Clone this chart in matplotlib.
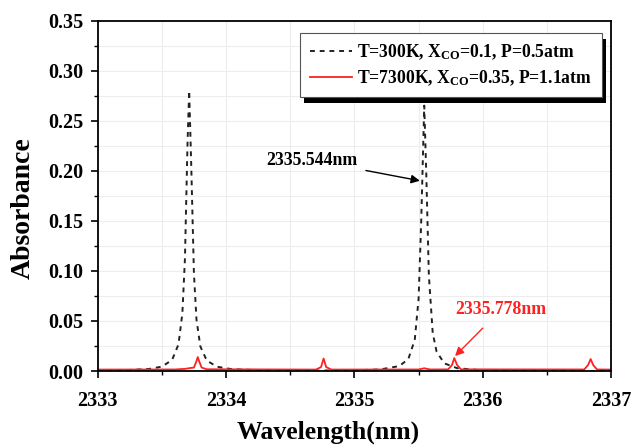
import matplotlib
matplotlib.use('Agg')
import matplotlib.pyplot as plt
from matplotlib.ticker import MultipleLocator
from matplotlib.patches import Rectangle

plt.rcParams['font.family'] = ['Liberation Serif', 'DejaVu Serif']
plt.rcParams['font.weight'] = 'bold'
plt.rcParams['mathtext.fontset'] = 'custom'
plt.rcParams['mathtext.rm'] = 'Liberation Serif:bold'
plt.rcParams['mathtext.it'] = 'Liberation Serif:bold'
plt.rcParams['mathtext.bf'] = 'Liberation Serif:bold'

# T=300K spectrum
wl_300 = [2333.00, 2333.20, 2333.40, 2333.50, 2333.58, 2333.63, 2333.66, 2333.68,
          2333.70, 2333.713, 2333.73, 2333.75, 2333.77, 2333.80, 2333.85, 2333.93,
          2334.05, 2334.30, 2334.70, 2335.00, 2335.20, 2335.35, 2335.42, 2335.47,
          2335.50, 2335.52, 2335.544, 2335.56, 2335.58, 2335.61, 2335.64, 2335.70,
          2335.80, 2335.95, 2336.20, 2336.60, 2337.00]
abs_300 = [0.0004, 0.0008, 0.0021, 0.0044, 0.0111, 0.0268, 0.0577, 0.112,
           0.227, 0.280, 0.2006, 0.0973, 0.0513, 0.0246, 0.0105, 0.0043,
           0.0018, 0.0007, 0.0005, 0.0008, 0.0016, 0.0050, 0.0120, 0.0311,
           0.0724, 0.148, 0.265, 0.196, 0.0954, 0.038, 0.0195, 0.0077,
           0.0029, 0.0012, 0.00045, 0.00017, 0.0001]

# T=7300K spectrum
wl_7300 = [2333.00, 2333.60, 2333.68, 2333.72, 2333.75, 2333.77, 2333.78, 2333.79,
           2333.81, 2333.85, 2334.70, 2334.74, 2334.76, 2334.78, 2334.82, 2335.50,
           2335.544, 2335.59, 2335.73, 2335.76, 2335.778, 2335.80, 2335.83, 2336.79,
           2336.82, 2336.84, 2336.86, 2336.89, 2337.00]
abs_7300 = [0.0015, 0.0016, 0.0022, 0.0030, 0.0035, 0.0100, 0.0140, 0.0100,
            0.0035, 0.0018, 0.0015, 0.0040, 0.0125, 0.0040, 0.0015, 0.0016,
            0.0028, 0.0016, 0.0017, 0.0060, 0.0130, 0.0060, 0.0017, 0.0016,
            0.0060, 0.0120, 0.0060, 0.0016, 0.0015]

label_300 = r'T=300K, X$_{\mathrm{CO}}$=0.1, P=0.5atm'
label_7300 = r'T=7300K, X$_{\mathrm{CO}}$=0.35, P=1.1atm'

fig = plt.figure(figsize=(6.34, 4.46), dpi=100)
ax = fig.add_axes([0.154, 0.168, 0.810, 0.786])

ax.plot(wl_300, abs_300, color='#222222', lw=1.4, ls=(0, (2.5, 2.5)), label=label_300)
ax.plot(wl_7300, abs_7300, color='#ff2020', lw=1.3, label=label_7300)

ax.set_xlim(2333, 2337)
ax.set_ylim(0, 0.35)
ax.xaxis.set_major_locator(MultipleLocator(1))
ax.xaxis.set_minor_locator(MultipleLocator(0.5))
ax.yaxis.set_major_locator(MultipleLocator(0.05))
ax.yaxis.set_minor_locator(MultipleLocator(0.025))
ax.yaxis.set_major_formatter(plt.FormatStrFormatter('%.2f'))
ax.tick_params(which='major', direction='out', length=5, width=1.2, labelsize=14.5)
ax.tick_params(axis='x', which='major', pad=9)
ax.tick_params(axis='y', which='major', pad=5)
ax.tick_params(which='minor', direction='out', length=3, width=1.0)
ax.grid(True, which='both', color='#ededed', lw=0.8)
ax.set_axisbelow(True)
for s in ax.spines.values():
    s.set_linewidth(1.3)

fig.text(328 / 634, 1 - 432 / 446, 'Wavelength(nm)', fontsize=18.5, fontweight='bold',
         ha='center', va='center')
fig.text(23 / 634, 1 - 208 / 446, 'Absorbance', fontsize=20, fontweight='bold',
         ha='center', va='center', rotation=90)

ax.annotate('2335.544nm', xy=(2335.51, 0.190), xytext=(2334.67, 0.2105),
            fontsize=12.8, fontweight='bold', ha='center', va='center',
            arrowprops=dict(arrowstyle='-|>', color='black', lw=1.0, shrinkA=4, shrinkB=0))
ax.annotate('2335.778nm', xy=(2335.784, 0.015), xytext=(2336.14, 0.061),
            fontsize=12.8, fontweight='bold', color='#ff2020', ha='center', va='center',
            arrowprops=dict(arrowstyle='-|>', color='#ff2020', lw=1.0, shrinkA=7, shrinkB=0))

leg = ax.legend(loc='upper right', bbox_to_anchor=(0.982, 0.965), borderaxespad=0,
                fontsize=12.7, handlelength=2.4, handletextpad=0.3, fancybox=False,
                framealpha=1, edgecolor='#555555', borderpad=0.55, labelspacing=0.35)
leg.get_frame().set_linewidth(0.8)

# black drop shadow behind the legend box
fig.canvas.draw()
bb = leg.get_window_extent()
shadow = Rectangle((bb.x0 + 4, bb.y0 - 6), bb.width, bb.height, transform=None,
                   facecolor='black', edgecolor='none', zorder=4.9)
shadow.set_clip_on(False)
ax.add_patch(shadow)

fig.savefig('out.png', dpi=100)
